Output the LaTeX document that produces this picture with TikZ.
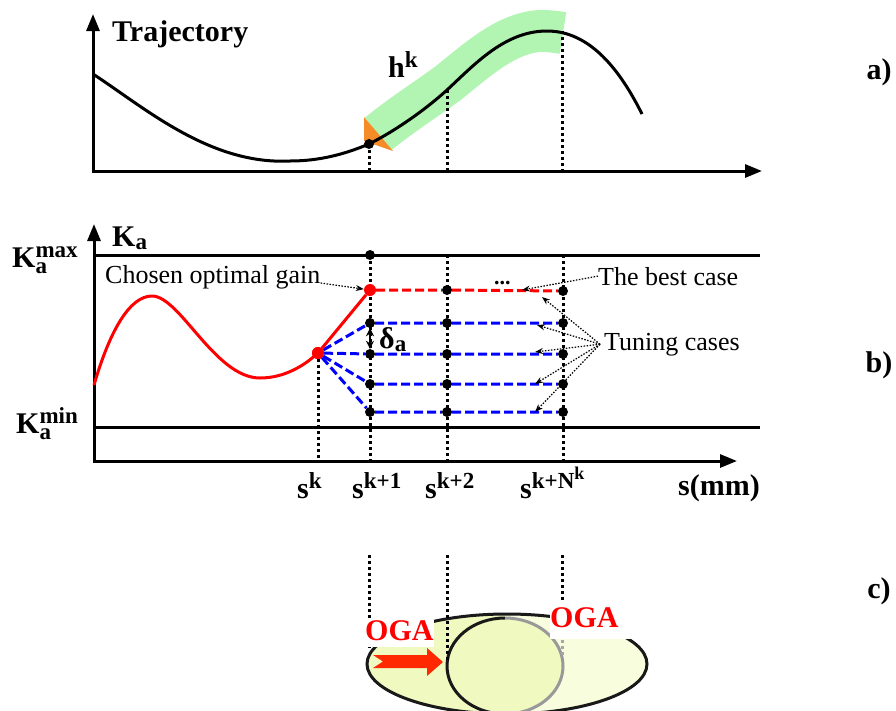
\documentclass[tikz,border=0pt]{standalone}
\usepackage{amsmath}
\usepackage{fontspec}
\setmainfont{Liberation Serif}
\usetikzlibrary{arrows.meta}
\DeclareMathSizes{30}{30}{23}{18}

\definecolor{bandgreen}{RGB}{178,245,178}
\definecolor{tiporange}{RGB}{245,140,40}
\definecolor{ogafill}{RGB}{240,250,192}
\definecolor{ogalight}{RGB}{248,253,222}
\definecolor{arrred}{RGB}{255,40,0}

\begin{document}
\begin{tikzpicture}[
  x=1pt, y=-1pt,
  lbl/.style={font=\bfseries\fontsize{30}{34}\selectfont, inner sep=0pt, anchor=base west},
  note/.style={font=\fontsize{26}{30}\selectfont, inner sep=0pt, anchor=base west},
  axis/.style={line width=3pt, -{Triangle[length=17pt,width=13pt]}},
  bound/.style={line width=3pt},
  guide/.style={line width=3pt, dash pattern=on 3pt off 3pt},
  dot/.style={circle, fill=black, inner sep=0pt, minimum size=10pt},
  rdot/.style={dot, fill=red, minimum size=12pt},
  ptr/.style={line width=1.2pt, dash pattern=on 1.5pt off 1.5pt, -{Stealth[length=8pt,width=6pt]}},
  tune/.style={blue, line width=3pt, dash pattern=on 9pt off 4pt},
  best/.style={red, line width=3pt, dash pattern=on 9pt off 4pt},
  ring/.style={line width=3pt, black!90},
  oga/.style={font=\bfseries\fontsize{30}{34}\selectfont, text=red, fill=white, inner sep=0pt, anchor=base west},
]
\useasboundingbox (0,0) rectangle (896,710);

% --- a) trajectory ---
\coordinate (xa) at (93,171);
\draw[axis] (93,172) -- (93,14);
\draw[axis] (92,171) -- (762,171);
\draw[bandgreen, line width=42pt] (378,134) .. controls (400,116) and (425,100) .. (447,84)
  .. controls (475,62) and (505,33) .. (540,31) .. controls (550,31) and (557,32) .. (563,33);
\fill[tiporange] (364,117) -- (364,141) -- (393,151) -- cycle;
\coordinate (h1) at (447,90);
\coordinate (h2) at (562,31);
\foreach \p in {h1,h2} \draw[guide] (\p) -- (\p |- xa);
\draw[guide] (369,144) -- (369,171);
\draw[line width=3pt] (93,74) .. controls (145,108) and (210,165) .. (290,161)
  .. controls (320,161) and (345,154) .. (369,144) .. controls (395,131) and (425,110) .. (447,90)
  .. controls (475,64) and (505,31) .. (547,31) .. controls (590,31) and (620,70) .. (642,114);
\node[dot] (h0) at (369,144) {};
\node[lbl] (traj) at (112,41) {Trajectory};
\node[lbl] (hk) at (388,77) {h$^{\text{k}}$};
\node[lbl, anchor=center] (pa) at (879,72) {a)};

% --- b) gain tuning ---
\draw[axis] (94,462) -- (94,224);
\draw[axis] (93,461) -- (737,461);
\draw[bound] (94,255) -- (760,255);
\draw[bound] (94,427) -- (760,427);
\foreach \x in {370,447,563} \draw[guide] (\x,255) -- (\x,461);
\draw[guide] (318,353) -- (318,461);

\node[rdot] (g0) at (318,353) {};
\node[rdot] (g1) at (370,290) {};
\node[dot] (t1) at (370,255) {};
\node[dot] (b2) at (447,290) {};
\node[dot] (b3) at (563,291) {};
\draw[best] (g1) -- (b2) -- (b3);
\foreach \i/\y in {1/323,2/354,3/384,4/412}{
  \node[dot] (c\i a) at (370,\y) {};
  \node[dot] (c\i b) at (447,\y) {};
  \node[dot] (c\i c) at (563,\y) {};
  \draw[tune] (g0) -- (c\i a) -- (c\i b) -- (c\i c);
}
\draw[red, line width=3pt] (94,385) .. controls (110,330) and (130,296) .. (152,296)
  .. controls (180,296) and (215,378) .. (260,378) .. controls (285,378) and (305,365) .. (g0.center);
\draw[red, line width=3pt] (g0) -- (g1);
\node[rdot] at (g0) {};
\draw[{Stealth[length=8pt,width=8pt]}-{Stealth[length=8pt,width=8pt]}, line width=2.4pt] (c1a) -- (c2a);

\node[lbl] (ka) at (112,246) {K$_{\text{a}}$};
\node[lbl] (kmax) at (12,267) {K$^{\text{max}}_{\text{a}}$};
\node[lbl] (kmin) at (16,433) {K$^{\text{min}}_{\text{a}}$};
\node[lbl] (da) at (379,348) {δ$_{\text{a}}$};
\node[font=\bfseries\fontsize{22}{24}\selectfont, inner sep=0pt, anchor=base west] (more) at (494,284) {...};
\node[lbl] (sk) at (297,498) {s$^{\text{k}}$};
\node[lbl] (sk1) at (352,498) {s$^{\text{k+1}}$};
\node[lbl] (sk2) at (425,498) {s$^{\text{k+2}}$};
\node[lbl] (skn) at (520,498) {s$^{\text{k+N}^{\text{k}}}$};
\node[lbl] (smm) at (678,495) {s(mm)};
\node[lbl, anchor=center] (pb) at (879,365) {b)};

\node[note] (cog) at (105,283) {Chosen optimal gain};
\draw[ptr] (cog.base east) -- (g1);
\node[note] (bestc) at (598,285) {The best case};
\coordinate (bp) at (522,290);
\draw[ptr] (bestc.west) -- (bp);
\node[note] (tc) at (604,350) {Tuning cases};
\foreach \px/\py in {542/297,537/325,535/352,535/384,535/412}
  \draw[ptr] ([xshift=-4pt]tc.west) -- (\px,\py);

% --- c) optimal gain areas ---
\coordinate (o1) at (507,664);
\fill[ogalight] (o1) ellipse [x radius=140pt, y radius=50pt];
\begin{scope}
  \clip (o1) ellipse [x radius=140pt, y radius=50pt];
  \fill[ogafill] (360,600) rectangle (505,720);
\end{scope}
\fill[ogafill] (505,666) ellipse [x radius=58pt, y radius=48pt];
\draw[ring] (o1) ellipse [x radius=140pt, y radius=50pt];
\draw[ring] (505,618) arc [start angle=90, end angle=270, x radius=58pt, y radius=48pt];
\draw[ring, black!40] (505,618) arc [start angle=90, end angle=-90, x radius=58pt, y radius=48pt];
\draw[guide] (369,555) -- (369,650);
\draw[guide] (447,555) -- (447,663);
\draw[guide] (562,555) -- (562,600);
\draw[guide, black!35] (562,640) -- (562,655);
\node[oga, text depth=7pt] (oga1) at (365,640) {OGA};
\node[oga, text depth=12pt, text width=82pt, align=left] (oga2) at (550,627) {OGA};
\fill[arrred] (373,655) -- (427,655) -- (427,648) -- (443,662) -- (427,676) -- (427,668)
  -- (373,668) -- (383,661.5) -- cycle;
\node[lbl, anchor=center] (pc) at (879,591) {c)};
\end{tikzpicture}
\end{document}
